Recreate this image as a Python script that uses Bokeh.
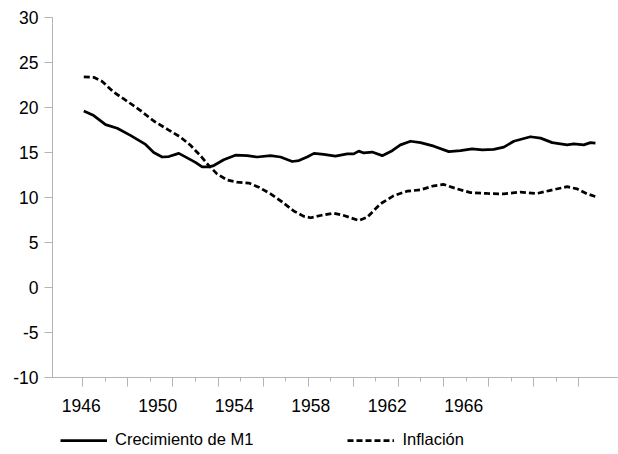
from bokeh.plotting import figure
from bokeh.layouts import column
from bokeh.models import (LinearAxis, FixedTicker, Range1d, Legend, LegendItem, Grid,
                          CustomLabelingPolicy)
from bokeh.embed import file_html
from bokeh.resources import INLINE

# ---- data ----
series_names = ["Crecimiento de M1", "Inflación"]

m1_years = [1946.13, 1946.65, 1947.27, 1947.88, 1948.57, 1949.36, 1949.79, 1950.23,
            1950.58, 1951.10, 1951.54, 1951.97, 1952.32, 1952.67, 1952.93, 1953.45,
            1954.06, 1954.68, 1955.20, 1955.90, 1956.42, 1957.03, 1957.38, 1957.81,
            1958.17, 1958.68, 1959.29, 1959.91, 1960.25, 1960.51, 1960.78, 1961.21,
            1961.74, 1962.26, 1962.69, 1963.22, 1963.74, 1964.44, 1965.22, 1965.83,
            1966.44, 1966.97, 1967.57, 1968.10, 1968.62, 1969.49, 1970.02, 1970.63,
            1971.41, 1971.76, 1972.28, 1972.63, 1972.89]
m1_values = [19.6, 19.1, 18.1, 17.7, 16.9, 15.9, 15.0, 14.5,
             14.55, 14.9, 14.4, 13.9, 13.4, 13.4, 13.55, 14.2,
             14.7, 14.65, 14.5, 14.65, 14.5, 14.0, 14.1, 14.5,
             14.9, 14.8, 14.6, 14.85, 14.85, 15.15, 14.95, 15.05,
             14.65, 15.2, 15.85, 16.25, 16.1, 15.7, 15.1, 15.2,
             15.4, 15.3, 15.35, 15.6, 16.25, 16.75, 16.6, 16.1,
             15.85, 15.95, 15.85, 16.1, 16.05]

inf_years = [1946.13, 1946.65, 1947.09, 1947.70, 1948.40, 1949.10, 1949.79, 1950.49,
             1951.19, 1951.71, 1952.23, 1952.67, 1953.11, 1953.63, 1954.15, 1954.76,
             1955.28, 1955.90, 1956.51, 1957.11, 1957.64, 1957.99, 1958.51, 1959.21,
             1959.73, 1960.51, 1960.95, 1961.65, 1962.34, 1963.04, 1963.74, 1964.44,
             1964.96, 1965.66, 1966.36, 1967.23, 1968.10, 1968.97, 1969.84, 1970.54,
             1971.41, 1971.94, 1972.46, 1972.89]
inf_values = [23.4, 23.35, 22.9, 21.7, 20.7, 19.65, 18.5, 17.6,
              16.7, 15.8, 14.65, 13.55, 12.6, 11.95, 11.7, 11.6,
              11.15, 10.4, 9.5, 8.5, 7.9, 7.75, 8.0, 8.25,
              8.0, 7.45, 7.8, 9.3, 10.2, 10.7, 10.85, 11.3,
              11.45, 10.95, 10.55, 10.45, 10.4, 10.6, 10.45, 10.8,
              11.2, 10.95, 10.4, 10.1]

label_years = [1946, 1950, 1954, 1958, 1962, 1966]
y_ticks = [-10, -5, 0, 5, 10, 15, 20, 25, 30]
y_tick_labels = {t: str(t) for t in y_ticks}

# ---- styling ----
GREY = "#b4b4b4"
FONT = "Liberation Sans"
DASH = "6 3"
LW = 2.75

p = figure(width=618, height=420, output_backend="svg", toolbar_location=None,
           x_range=Range1d(1944.494, 1974.096), y_range=Range1d(-10, 30),
           x_axis_type=None, y_axis_type=None,
           min_border_left=52, min_border_right=0, min_border_top=17,
           min_border_bottom=43)
p.outline_line_color = None
p.background_fill_color = "white"
p.border_fill_color = "white"

p.add_layout(Grid(dimension=1, ticker=FixedTicker(ticks=[30]),
                  grid_line_color=GREY, grid_line_width=1))

yax = LinearAxis(ticker=FixedTicker(ticks=y_ticks),
                 major_label_overrides=y_tick_labels,
                 major_tick_out=8, major_tick_in=0, minor_tick_out=0, minor_tick_in=0,
                 axis_line_color=GREY, major_tick_line_color=GREY,
                 major_label_text_font=FONT, major_label_text_font_size="17.5px",
                 major_label_text_color="#000000", major_label_standoff=6)
p.add_layout(yax, "left")

no_labels = CustomLabelingPolicy(code="""
    for (const i of Array.from(indices)) { indices.unset(i) }
    return indices
""")

tick_major = [1946.08 + 2.358 * k for k in range(12)]
tick_minor = [t + 1.179 for t in tick_major[:-1]]
xa = LinearAxis(ticker=FixedTicker(ticks=tick_major, minor_ticks=tick_minor),
                major_tick_out=9, major_tick_in=0, minor_tick_out=4, minor_tick_in=0,
                axis_line_color=GREY, major_tick_line_color=GREY,
                minor_tick_line_color=GREY, major_label_policy=no_labels,
                major_label_text_font_size="10px", major_label_standoff=0)
p.add_layout(xa, "below")

xb = LinearAxis(ticker=FixedTicker(ticks=label_years),
                major_tick_out=0, major_tick_in=0, minor_tick_out=0, minor_tick_in=0,
                axis_line_color=None, major_tick_line_color=None,
                major_label_text_font=FONT, major_label_text_font_size="17.5px",
                major_label_text_color="#000000", major_label_standoff=1)
p.add_layout(xb, "below")

p.line(m1_years, m1_values, line_color="black", line_width=LW, line_join="round")
p.line(inf_years, inf_values, line_color="black", line_width=LW,
       line_dash=DASH, line_join="round")

# ---- legend strip below the chart ----
leg = figure(width=618, height=34, output_backend="svg", toolbar_location=None,
             x_range=Range1d(0, 1), y_range=Range1d(0, 1),
             x_axis_type=None, y_axis_type=None,
             min_border_left=0, min_border_right=0, min_border_top=0,
             min_border_bottom=0)
leg.outline_line_color = None
leg.background_fill_color = "white"
leg.border_fill_color = "white"
# the same series, outside this strip's view: only their legend entries show
l1 = leg.line(m1_years, m1_values, line_color="black", line_width=LW)
l2 = leg.line(inf_years, inf_values, line_color="black", line_width=LW, line_dash=DASH)

legend = Legend(items=[LegendItem(label=series_names[0], renderers=[l1]),
                       LegendItem(label=series_names[1], renderers=[l2])],
                orientation="horizontal", location=(8, 5),
                glyph_width=47, glyph_height=18, label_height=18,
                label_standoff=8, spacing=94,
                label_text_font=FONT, label_text_font_size="16.5px",
                label_text_color="#000000",
                border_line_color=None, background_fill_alpha=0,
                margin=0, padding=0)
leg.add_layout(legend)

open("out.html", "w").write(file_html(column(p, leg, spacing=0), INLINE))
